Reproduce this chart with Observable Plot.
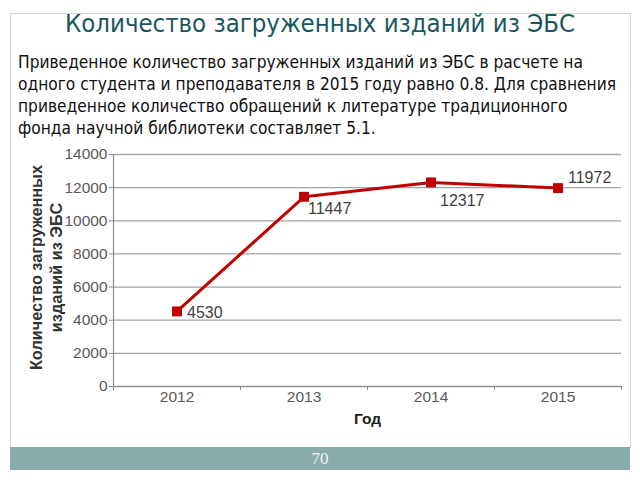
<!DOCTYPE html>
<html>
<head>
<meta charset="utf-8">
<script src="https://cdn.jsdelivr.net/npm/d3@7"></script>
<script src="https://cdn.jsdelivr.net/npm/@observablehq/plot@0.6"></script>
<style>
  html, body { margin: 0; padding: 0; background: #fff; width: 640px; height: 480px; overflow: hidden; }
  #frame { position: absolute; left: 10px; top: 13px; width: 619px; height: 434px; border: 1px solid #d4d4d4; border-bottom: none; }
  #title { position: absolute; left: 0; top: 8px; width: 640px; text-align: center; font-family: "DejaVu Sans Condensed", "DejaVu Sans", sans-serif; font-size: 25.5px; color: #1b5660; }
  #sub { position: absolute; left: 18px; top: 51px; width: 620px; white-space: nowrap; font-family: "DejaVu Sans Condensed", "DejaVu Sans", sans-serif; font-size: 17.2px; line-height: 22px; color: #111; }
  #chart { position: absolute; left: 0; top: 140px; }
  #bar { position: absolute; left: 10px; top: 447px; width: 620px; height: 23px; background: #89acab; color: #eef4f4; font-family: "Liberation Serif", "DejaVu Serif", serif; font-size: 17px; text-align: center; line-height: 23px; }
</style>
</head>
<body>
<div id="frame"></div>
<div id="title">Количество загруженных изданий из ЭБС</div>
<div id="sub">Приведенное количество загруженных изданий из ЭБС в расчете на<br>одного студента и преподавателя в 2015 году равно 0.8. Для сравнения<br>приведенное количество обращений к литературе традиционного<br>фонда научной библиотеки составляет 5.1.</div>
<div id="chart"></div>
<div id="bar">70</div>
<script>
const years = [2012, 2013, 2014, 2015];
const values = [4530, 11447, 12317, 11972];
const yTicks = [0, 2000, 4000, 6000, 8000, 10000, 12000, 14000];
const yTitle = "Количество загруженных\nизданий из ЭБС";
const xTitle = "Год";

const data = years.map((year, i) => ({year, value: values[i]}));
const bounds = [years[0] - 0.5, ...years.map(y => y + 0.5)];
const font = "Liberation Sans, Arial, sans-serif";
const red = "#c00000";
const tickFill = "#595959";
const labelStyle = {x: "year", y: "value", text: d => String(d.value), fill: "#404040", fontSize: 16, textAnchor: "start", fontFamily: font};

const plot = Plot.plot({
  width: 640,
  height: 300,
  marginLeft: 113,
  marginRight: 19,
  marginTop: 14,
  marginBottom: 54,
  style: {fontFamily: font, background: "transparent", overflow: "visible"},
  x: {type: "linear", domain: [bounds[0], bounds[bounds.length - 1]]},
  y: {domain: [0, 14000]},
  marks: [
    Plot.gridY(yTicks, {stroke: "#a3a3a3", strokeOpacity: 1, strokeWidth: 1.3}),
    Plot.ruleX([bounds[0]], {stroke: "#8c8c8c", strokeWidth: 1.2}),
    Plot.ruleY([0], {stroke: "#8c8c8c", strokeWidth: 1.2}),
    Plot.axisY({ticks: yTicks, tickSize: 4, stroke: "#8c8c8c", tickFormat: () => "", label: null}),
    Plot.axisX({ticks: bounds, tickSize: 4, stroke: "#8c8c8c", tickFormat: () => "", label: null}),
    Plot.text(yTicks, {y: d => d, text: d => String(d), frameAnchor: "left", dx: -6, textAnchor: "end", fill: tickFill, fontSize: 15.5, fontFamily: font}),
    Plot.text(years, {x: d => d, text: d => String(d), frameAnchor: "bottom", dy: 15, fill: tickFill, fontSize: 15.5, fontFamily: font}),
    Plot.line(data, {x: "year", y: "value", stroke: red, strokeWidth: 3}),
    Plot.dot(data, {x: "year", y: "value", symbol: "square", r: 5.6, fill: red, stroke: "none"}),
    Plot.text(data.filter((d, i) => i === 0), {...labelStyle, dx: 10, dy: 1}),
    Plot.text(data.filter((d, i) => i === 1), {...labelStyle, dx: 4, dy: 12}),
    Plot.text(data.filter((d, i) => i === 2), {...labelStyle, dx: 9, dy: 18}),
    Plot.text(data.filter((d, i) => i === 3), {...labelStyle, dx: 10, dy: -10}),
    Plot.text([yTitle], {frameAnchor: "left", rotate: -90, dx: -68, dy: -3, textAnchor: "middle", lineAnchor: "middle", lineHeight: 1.25, fontSize: 16.3, fontWeight: "bold", fill: "#333", fontFamily: font}),
    Plot.text([xTitle], {frameAnchor: "bottom", dy: 37, dx: 0, fontSize: 15.5, fontWeight: "bold", fill: "#222", fontFamily: font})
  ]
});
document.getElementById("chart").appendChild(plot);
</script>
</body>
</html>
